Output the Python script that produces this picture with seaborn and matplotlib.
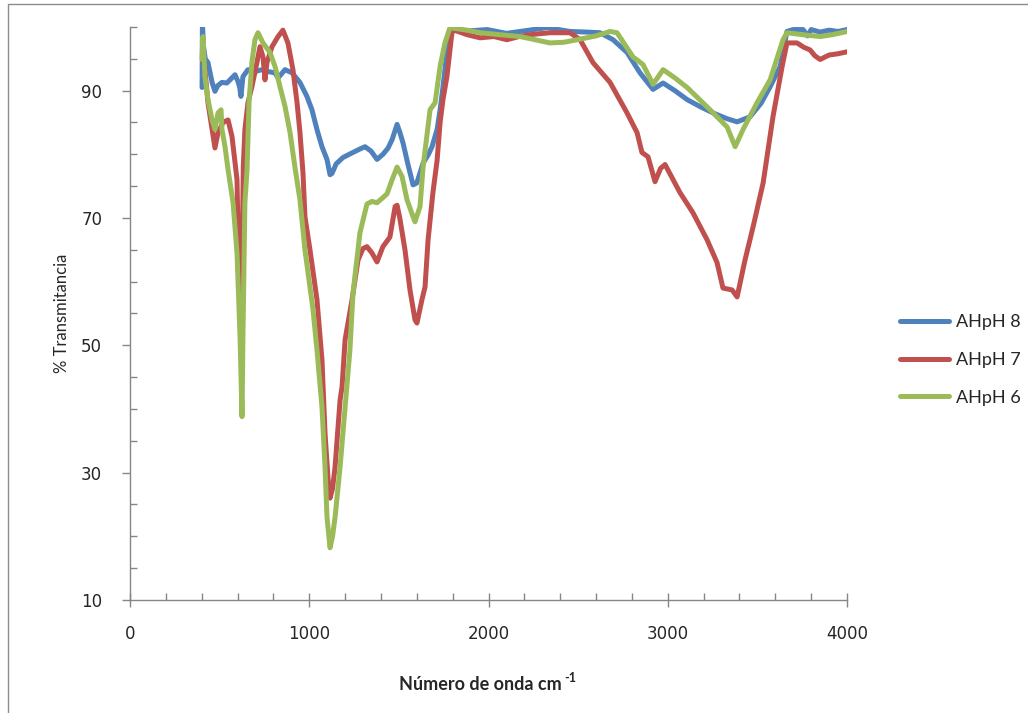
#~~~~~~~~~~~~~~~~~~~~~~~~~~~~~~~~~~~~~~~~~~~~~~~~~~~~~~~~~~~~~~~~~~~~~~~~~~~~~~~
# plot.py ----
# Purpose of Script: FTIR spectra (% transmitancia) for AHpH 8 / 7 / 6
#~~~~~~~~~~~~~~~~~~~~~~~~~~~~~~~~~~~~~~~~~~~~~~~~~~~~~~~~~~~~~~~~~~~~~~~~~~~~~
# Libraries
import numpy as np
import pandas as pd
import seaborn as sns
import matplotlib
matplotlib.use("Agg")
import matplotlib.pyplot as plt
from matplotlib.ticker import MultipleLocator

#~~~~~~~~~~~~~~~~~~~~~~~~~~~~~~~~~~~~~~~~~~~~~~~~~~~~~~~~~~~~~~~~~~~~~~~~~~~~~~~
# Data
#~~~~~~~~~~~~~~~~~~~~~~~~~~~~~~~~~~~~~~~~~~~~~~~~~~~~~~~~~~~~~~~~~~~~~~~~~~~~~~~
# AHpH 8
x_ph8 = [402, 404, 410, 420, 435, 458, 474, 490, 513, 540, 558, 586, 603, 612, 619,
         630, 658, 697, 736, 770, 809, 826, 865, 904, 948, 987, 1015, 1043, 1071,
         1099, 1116, 1127, 1150, 1188, 1244, 1280, 1311, 1345, 1378, 1411, 1440,
         1462, 1490, 1505, 1523, 1550, 1579, 1600, 1635, 1665, 1685, 1713, 1730,
         1746, 1768, 1796, 1850, 1992, 2100, 2176, 2326, 2455, 2550, 2622, 2695,
         2773, 2845, 2918, 2974, 3040, 3108, 3180, 3253, 3330, 3387, 3459, 3520,
         3571, 3627, 3665, 3700, 3755, 3780, 3800, 3850, 3900, 3950, 4000]
y_ph8 = [90.5, 100.5, 97.0, 95.0, 94.4, 91.3, 89.9, 90.8, 91.3, 91.2, 91.7, 92.5,
         91.4, 90.5, 89.1, 92.2, 93.3, 93.0, 93.3, 93.0, 92.8, 92.0, 93.3, 92.8,
         91.3, 89.1, 87.0, 83.9, 81.2, 79.2, 76.8, 77.0, 78.5, 79.5, 80.3, 80.8,
         81.2, 80.5, 79.2, 80.0, 81.0, 82.3, 84.7, 83.5, 81.8, 78.5, 75.2, 75.5,
         78.6, 80.0, 81.2, 83.9, 87.0, 90.6, 96.0, 99.9, 99.3, 99.6, 99.0, 99.3,
         99.9, 99.3, 99.2, 99.1, 98.0, 96.0, 92.8, 90.2, 91.2, 90.0, 88.6, 87.5,
         86.5, 85.6, 85.1, 85.9, 88.0, 90.6, 93.8, 99.3, 99.6, 99.6, 98.6, 99.6,
         99.2, 99.5, 99.3, 99.6]

# AHpH 7
x_ph7 = [404, 418, 435, 458, 474, 491, 519, 547, 569, 586, 597, 603, 614, 621, 632,
         641, 658, 680, 708, 725, 742, 753, 764, 792, 826, 853, 881, 909, 932, 948,
         965, 976, 1004, 1043, 1071, 1088, 1105, 1116, 1130, 1144, 1172, 1183, 1200,
         1239, 1272, 1300, 1322, 1350, 1378, 1411, 1450, 1479, 1490, 1505, 1534,
         1562, 1590, 1601, 1629, 1646, 1663, 1690, 1713, 1730, 1746, 1768, 1796,
         1810, 1880, 1953, 2030, 2103, 2170, 2232, 2343, 2455, 2511, 2583, 2678,
         2773, 2829, 2856, 2890, 2929, 2960, 2985, 3068, 3141, 3219, 3275, 3308,
         3359, 3387, 3431, 3476, 3532, 3587, 3638, 3665, 3721, 3760, 3794, 3820,
         3850, 3900, 3950, 4000]
y_ph7 = [95.5, 93.3, 88.1, 83.9, 81.0, 83.4, 85.0, 85.4, 82.8, 78.7, 76.0, 67.0,
         60.3, 53.0, 78.0, 83.9, 88.1, 90.6, 94.4, 96.9, 95.3, 91.7, 94.4, 96.9,
         98.5, 99.5, 97.5, 93.3, 88.1, 83.5, 77.1, 70.2, 65.0, 57.2, 47.7, 36.2,
         29.0, 26.0, 27.5, 30.9, 41.4, 43.5, 50.9, 57.2, 63.4, 65.2, 65.5, 64.5,
         63.1, 65.5, 67.0, 71.8, 72.0, 70.0, 65.0, 58.7, 54.0, 53.5, 57.2, 59.2,
         66.6, 74.0, 79.0, 85.0, 88.6, 92.2, 99.1, 99.5, 98.8, 98.3, 98.5, 98.0,
         98.5, 98.8, 99.1, 99.1, 98.0, 94.4, 91.3, 86.5, 83.4, 80.3, 79.6, 75.7,
         77.8, 78.4, 74.0, 70.8, 66.6, 63.0, 59.0, 58.7, 57.6, 63.4, 68.6, 75.5,
         85.9, 93.8, 97.5, 97.5, 96.8, 96.4, 95.5, 94.9, 95.6, 95.8, 96.1]

# AHpH 6
x_ph6 = [402, 407, 418, 435, 458, 474, 491, 508, 513, 530, 547, 575, 597, 614, 625,
         630, 641, 653, 664, 680, 697, 714, 742, 781, 809, 837, 865, 893, 920, 948,
         976, 1021, 1043, 1071, 1088, 1099, 1116, 1130, 1144, 1172, 1200, 1227,
         1244, 1283, 1322, 1350, 1378, 1411, 1434, 1462, 1490, 1518, 1545, 1579,
         1590, 1618, 1635, 1674, 1702, 1730, 1757, 1785, 1880, 1953, 2060, 2176,
         2260, 2343, 2420, 2494, 2600, 2678, 2717, 2806, 2862, 2918, 2974, 3040,
         3108, 3236, 3331, 3376, 3420, 3498, 3571, 3643, 3665, 3750, 3850, 3920,
         4000]
y_ph6 = [94.9, 98.5, 92.2, 88.6, 85.4, 83.9, 86.5, 87.0, 83.9, 81.2, 77.6, 72.4,
         64.5, 51.3, 38.8, 51.3, 72.4, 77.6, 88.1, 94.4, 98.0, 99.1, 97.5, 96.0,
         93.8, 90.6, 87.5, 83.4, 78.0, 72.9, 65.0, 55.6, 49.3, 40.3, 30.9, 23.0,
         18.2, 20.0, 23.0, 30.9, 40.3, 49.3, 58.2, 67.7, 72.2, 72.6, 72.4, 73.2,
         73.8, 76.0, 78.0, 76.5, 72.9, 70.2, 69.4, 71.8, 78.0, 87.0, 88.1, 93.8,
         97.5, 99.9, 99.5, 99.1, 98.8, 98.5, 98.0, 97.5, 97.6, 98.0, 98.6, 99.3,
         99.1, 95.3, 94.1, 91.0, 93.3, 92.0, 90.5, 87.0, 84.3, 81.2, 83.9, 88.1,
         91.7, 98.0, 99.1, 98.8, 98.5, 98.8, 99.3]

series = ["AHpH 8", "AHpH 7", "AHpH 6"]
colors = ["#4F81BD", "#C0504D", "#9BBB59"]

x_ticks = [0, 1000, 2000, 3000, 4000]
y_ticks = [10, 30, 50, 70, 90]

# long format table for seaborn
df = pd.concat([
    pd.DataFrame({"x": x_ph8, "y": y_ph8, "serie": series[0]}),
    pd.DataFrame({"x": x_ph7, "y": y_ph7, "serie": series[1]}),
    pd.DataFrame({"x": x_ph6, "y": y_ph6, "serie": series[2]}),
], ignore_index=True)

#~~~~~~~~~~~~~~~~~~~~~~~~~~~~~~~~~~~~~~~~~~~~~~~~~~~~~~~~~~~~~~~~~~~~~~~~~~~~~~~
# Plot
#~~~~~~~~~~~~~~~~~~~~~~~~~~~~~~~~~~~~~~~~~~~~~~~~~~~~~~~~~~~~~~~~~~~~~~~~~~~~~~~
sns.set_style("white")
plt.rcParams["font.family"] = ["DejaVu Sans"]

grey = "#868686"
label_font = ["Lato", "DejaVu Sans"]

fig = plt.figure(figsize=(10.28, 7.13), dpi=100)
ax = fig.add_axes([130 / 1028, 1 - 600 / 713, 717 / 1028, 573 / 713])

sns.lineplot(
    data=df, x="x", y="y", hue="serie",
    hue_order=series, palette=dict(zip(series, colors)),
    sort=False, estimator=None, linewidth=3.6, ax=ax
)

ax.set_xlim(0, 4000)
ax.set_ylim(10, 100)
ax.set_xticks(x_ticks)
ax.set_yticks(y_ticks)
ax.xaxis.set_minor_locator(MultipleLocator(200))
ax.yaxis.set_minor_locator(MultipleLocator(5))

ax.tick_params(axis="x", which="major", direction="inout", length=10, width=1,
               color=grey, labelsize=12, pad=13)
ax.tick_params(axis="x", which="minor", direction="in", length=5, width=1, color=grey)
ax.tick_params(axis="y", which="major", direction="out", length=6, width=1,
               color=grey, labelsize=12, pad=14)
ax.tick_params(axis="y", which="minor", direction="in", length=5, width=1, color=grey)
ax.tick_params(bottom=True, left=True, which="both")

for s in ["top", "right"]:
    ax.spines[s].set_visible(False)
for s in ["left", "bottom"]:
    ax.spines[s].set_color(grey)
    ax.spines[s].set_linewidth(1)

# axis titles (superscript of cm-1 drawn as its own small text)
ax.set_xlabel("Número de onda cm", fontsize=13, fontweight="bold", family=label_font)
ax.set_ylabel("% Transmitancia", fontsize=12, family=label_font)
ax.xaxis.set_label_coords(0.5 - 8 / 717, -(676 - 600) / 573)
ax.yaxis.set_label_coords(-(130 - 70) / 717, 0.5)

# legend to the right of the axes
handles, labels = ax.get_legend_handles_labels()
for h in handles:
    h.set_linewidth(3.6)
ax.legend(handles, labels, loc="center left",
          bbox_to_anchor=(900 / 1028, 1 - 360 / 713), bbox_transform=fig.transFigure,
          frameon=False, borderpad=0, borderaxespad=0, handlelength=2.7,
          handletextpad=0.4, labelspacing=1.2,
          prop={"family": label_font, "size": 13})

# outer chart frame (left and top edges visible)
fig.add_artist(plt.Rectangle((7.5 / 1028, -0.1), 1.2, 0.1 + (713 - 4.5) / 713,
                             transform=fig.transFigure, fill=False,
                             edgecolor="#8c8c8c", linewidth=1, clip_on=False))

# superscript "-1" right after the x label
fig.canvas.draw()
bb = ax.xaxis.label.get_window_extent(fig.canvas.get_renderer())
fig.text((bb.x1 + 2) / 1028, (bb.y1 - 2) / 713, "-1", fontsize=9,
         fontweight="bold", family=label_font, ha="left", va="center")

fig.savefig("out.png", dpi=100)
